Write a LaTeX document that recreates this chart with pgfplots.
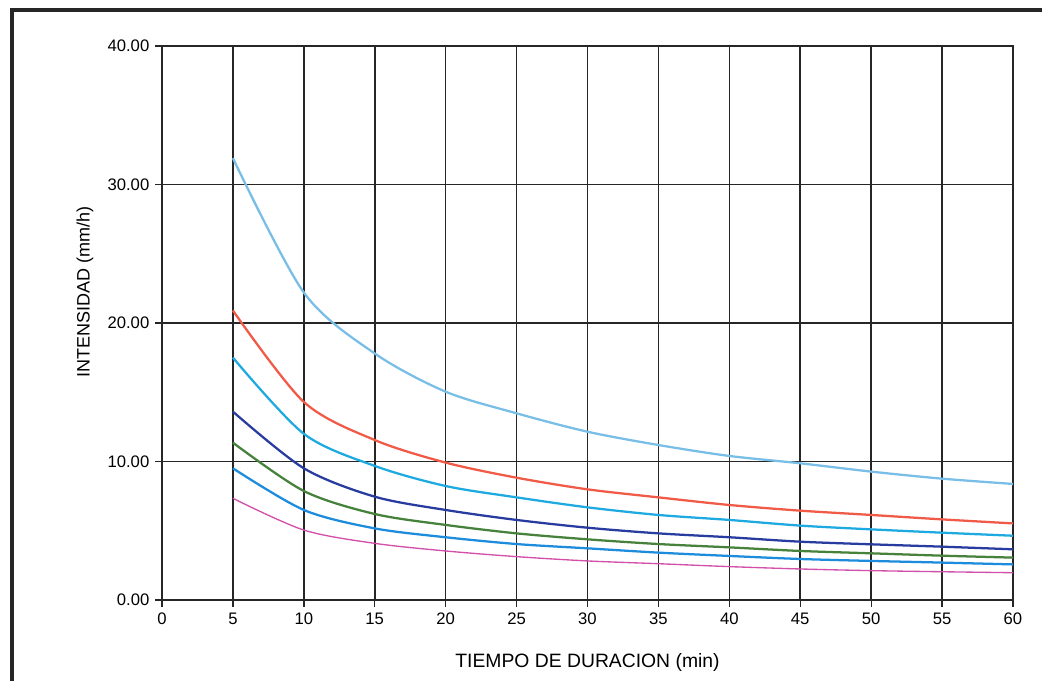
\documentclass[border=0pt]{standalone}
\usepackage{pgfplots}
\pgfplotsset{compat=1.18}
\usepackage{fontspec}
\setmainfont{Liberation Sans}
\definecolor{cA}{HTML}{78BEE6}
\definecolor{cB}{HTML}{F05A46}
\definecolor{cC}{HTML}{1EAAE1}
\definecolor{cD}{HTML}{283CA0}
\definecolor{cE}{HTML}{46823C}
\definecolor{cF}{HTML}{1E8CDC}
\definecolor{cG}{HTML}{D250AA}
\begin{document}
\begin{tikzpicture}
\useasboundingbox (0,0) rectangle (781.5pt,510.75pt);
\draw[line width=2.4pt, black!85] (9pt,-20pt) -- (9pt,503.25pt) -- (800pt,503.25pt);
\begin{axis}[
  at={(121.5pt,60.75pt)}, anchor=south west,
  scale only axis, width=638.25pt, height=415.5pt,
  xmin=0, xmax=60, ymin=0, ymax=40,
  xtick={0,5,...,60}, ytick={0,10,20,30,40},
  grid=major,
  major grid style={line width=1.2pt, black!85},
  axis line style={line width=1.2pt, black!85},
  tick style={line width=1pt, black!85},
  tick align=outside, major tick length=5pt,
  xtick pos=bottom, ytick pos=left,
  /pgf/number format/assume math mode=true,
  yticklabel style={/pgf/number format/fixed, /pgf/number format/fixed zerofill, /pgf/number format/precision=2, xshift=-1pt},
  ticklabel style={font=\fontsize{12.5}{14}\selectfont},
  xticklabel style={yshift=-1pt},
  xlabel={TIEMPO DE DURACION (min)},
  ylabel={INTENSIDAD (mm/h)},
  xlabel style={font=\fontsize{14.5}{16}\selectfont, at={(axis description cs:0.5,-0.1137)}, anchor=center},
  ylabel style={font=\fontsize{13.5}{15}\selectfont, at={(axis description cs:-0.0905,0.556)}, anchor=center},
]
\addplot[cA, line width=1.7pt, smooth] coordinates {(5,31.9) (10,22.2) (15,17.8) (20,15.04) (25,13.48) (30,12.15) (35,11.19) (40,10.4) (45,9.87) (50,9.27) (55,8.76) (60,8.38)};
\addplot[cB, line width=1.7pt, smooth] coordinates {(5,20.9) (10,14.3) (15,11.55) (20,9.92) (25,8.83) (30,7.99) (35,7.41) (40,6.86) (45,6.45) (50,6.14) (55,5.82) (60,5.53)};
\addplot[cC, line width=1.7pt, smooth] coordinates {(5,17.5) (10,12.0) (15,9.68) (20,8.23) (25,7.41) (30,6.69) (35,6.14) (40,5.78) (45,5.37) (50,5.10) (55,4.86) (60,4.64)};
\addplot[cD, line width=1.7pt, smooth] coordinates {(5,13.6) (10,9.51) (15,7.46) (20,6.50) (25,5.78) (30,5.22) (35,4.81) (40,4.53) (45,4.21) (50,4.02) (55,3.85) (60,3.66)};
\addplot[cE, line width=1.7pt, smooth] coordinates {(5,11.36) (10,7.87) (15,6.21) (20,5.42) (25,4.81) (30,4.38) (35,4.04) (40,3.80) (45,3.54) (50,3.37) (55,3.20) (60,3.06)};
\addplot[cF, line width=1.7pt, smooth] coordinates {(5,9.51) (10,6.50) (15,5.17) (20,4.53) (25,4.04) (30,3.73) (35,3.42) (40,3.18) (45,2.96) (50,2.82) (55,2.70) (60,2.57)};
\addplot[cG, line width=1pt, smooth] coordinates {(5,7.34) (10,5.05) (15,4.09) (20,3.54) (25,3.13) (30,2.82) (35,2.62) (40,2.41) (45,2.24) (50,2.12) (55,2.04) (60,1.97)};
\end{axis}
\end{tikzpicture}
\end{document}
